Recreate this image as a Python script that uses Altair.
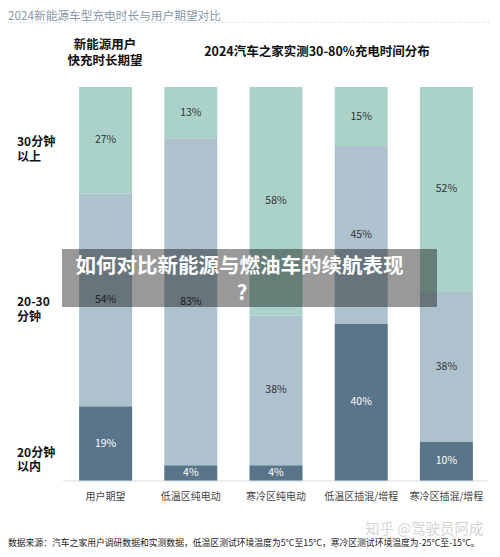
import altair as alt
import pandas as pd

# ---- data ----
categories = ["用户期望", "低温区纯电动", "寒冷区纯电动", "低温区插混/增程", "寒冷区插混/增程"]
segments = ["20分钟以内", "20-30分钟", "30分钟以上"]
under20 = [19, 4, 4, 40, 10]
between = [54, 83, 38, 45, 38]
over30 = [27, 13, 58, 15, 52]

seg_colors = ["#5a748a", "#adc1cf", "#aad2c9"]
FONT = "Noto Sans CJK SC"

rows = []
for i, c in enumerate(categories):
    for k, (s, vals) in enumerate(zip(segments, [under20, between, over30])):
        rows.append({"cat": c, "seg": s, "order": k, "value": vals[i],
                     "label": f"{vals[i]}%"})
df = pd.DataFrame(rows)

xscale = alt.Scale(domain=categories, range=[55, 481], paddingInner=0.378, paddingOuter=0.189)
yscale = alt.Scale(domain=[0, 100], range=[473, 79])

base = alt.Chart(df).transform_stack(
    stack="value", groupby=["cat"], as_=["y0", "y1"], sort=[alt.SortField("order")]
).transform_calculate(mid="(datum.y0 + datum.y1) / 2")

bars = base.mark_bar().encode(
    x=alt.X("cat:N", scale=xscale, axis=None),
    y=alt.Y("y0:Q", scale=yscale, axis=None),
    y2="y1:Q",
    color=alt.Color("seg:N", scale=alt.Scale(domain=segments, range=seg_colors), legend=None),
)

labels = base.mark_text(font=FONT, fontSize=10.5, baseline="middle").encode(
    x=alt.X("cat:N", scale=xscale, axis=None),
    y=alt.Y("mid:Q", scale=yscale, axis=None),
    text="label:N",
    color=alt.condition(alt.datum.seg == "20分钟以内", alt.value("#ffffff"), alt.value("#333333")),
)

cat_df = pd.DataFrame({"cat": categories})
one = pd.DataFrame({"k": [0]})

xlabels = alt.Chart(cat_df).mark_text(font=FONT, fontSize=10, color="#444444", baseline="middle").encode(
    x=alt.X("cat:N", scale=xscale, axis=None),
    y=alt.value(489),
    text="cat:N",
)

baseline = alt.Chart(one).mark_rule(color="#d9e1e7", strokeWidth=1).encode(
    x=alt.value(55), x2=alt.value(480), y=alt.value(473)
)

def txt(s, x, y, size, weight="normal", color="#111111", align="left"):
    return alt.Chart(pd.DataFrame({"t": [s]})).mark_text(
        font=FONT, fontSize=size, fontWeight=weight, color=color, align=align, baseline="middle"
    ).encode(x=alt.value(x), y=alt.value(y), text="t:N")

title = txt("2024新能源车型充电时长与用户期望对比", 0, 8, 11.7, color="#8797a6")
dots = alt.Chart(one).mark_rule(color="#c9d2da", strokeDash=[1, 2]).encode(
    x=alt.value(0), x2=alt.value(482), y=alt.value(14.5))

h1a = txt("新能源用户", 97, 37, 12.5, "bold", align="center")
h1b = txt("快充时长期望", 97, 53, 12.5, "bold", align="center")
h2 = txt("2024汽车之家实测30-80%充电时间分布", 309, 43.5, 12.5, "bold", align="center")

y1a = txt("30分钟", 9, 134, 12, "bold")
y1b = txt("以上", 9, 149, 12, "bold")
y2a = txt("20-30", 9, 294, 12, "bold")
y2b = txt("分钟", 9, 309, 12, "bold")
y3a = txt("20分钟", 9, 445, 12, "bold")
y3b = txt("以内", 9, 459, 12, "bold")

source = txt("数据来源：汽车之家用户调研数据和实测数据，低温区测试环境温度为5°C至15°C，寒冷区测试环境温度为-25°C至-15°C。",
             0, 535, 8.8, color="#222222")
watermark = txt("知乎 @驾驶员阿成", 357, 521.5, 14.5, color="#d4d4d4")

overlay = alt.Chart(one).mark_rect(color="#000000", opacity=0.4).encode(
    x=alt.value(54), x2=alt.value(429), y=alt.value(241), y2=alt.value(299))
ov1 = txt("如何对比新能源与燃油车的续航表现", 231.5, 259, 20.5, "bold", color="#ffffff", align="center")
ov2 = txt("?", 234, 286, 20.5, "bold", color="#ffffff", align="center")

chart = alt.layer(
    bars, labels, baseline, xlabels, title, dots, h1a, h1b, h2,
    y1a, y1b, y2a, y2b, y3a, y3b,
    source, watermark, overlay, ov1, ov2
).properties(
    width=484, height=541, autosize="none", padding=0
).configure_view(stroke=None)

chart.save("out.html", embed_options={"renderer": "svg", "actions": False})
